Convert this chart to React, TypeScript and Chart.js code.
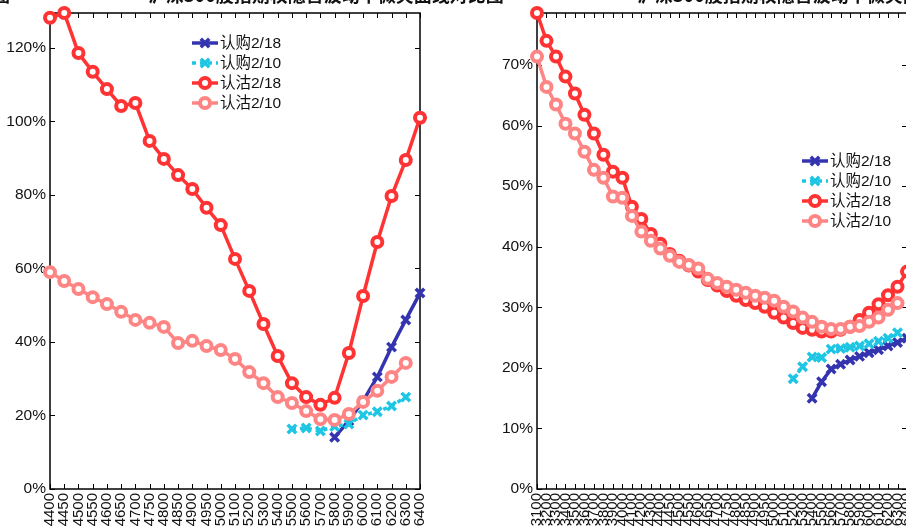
import React, { useEffect, useRef } from 'react';
import { Chart, registerables } from 'chart.js';

Chart.register(...registerables);

// ---------- data ----------
const leftStrikes = ['4400','4450','4500','4550','4600','4650','4700','4750','4800','4850','4900','4950','5000','5100','5200','5300','5400','5500','5600','5700','5800','5900','6000','6100','6200','6300','6400'];
const leftCall0218: (number | null)[] = [null,null,null,null,null,null,null,null,null,null,null,null,null,null,null,null,null,null,null,null,14.1,18.5,24.0,30.5,38.6,46.0,53.3];
const leftCall0210: (number | null)[] = [null,null,null,null,null,null,null,null,null,null,null,null,null,null,null,null,null,16.3,16.6,15.8,17.0,17.7,20.1,21.0,22.6,25.0,null];
const leftPut0218: (number | null)[] = [128.2,129.5,118.6,113.5,108.8,104.2,105.0,94.7,89.8,85.4,81.6,76.5,71.8,62.6,53.9,44.9,36.2,28.8,25.0,22.9,24.8,37.0,52.5,67.2,79.7,89.5,101.0];
const leftPut0210: (number | null)[] = [59.0,56.6,54.4,52.2,50.3,48.2,46.0,45.2,44.1,39.7,40.3,38.9,37.8,35.4,31.8,28.8,25.0,23.4,21.2,19.0,18.8,20.4,23.7,26.7,30.5,34.3,null];

const rightStrikes = ['3100','3200','3300','3400','3500','3600','3700','3800','3900','4000','4100','4200','4300','4400','4450','4500','4550','4600','4650','4700','4750','4800','4850','4900','4950','5000','5100','5200','5300','5400','5500','5600','5700','5800','5900','6000','6100','6200','6300','6400'];
const rightCall0218: (number | null)[] = [null,null,null,null,null,null,null,null,null,null,null,null,null,null,null,null,null,null,null,null,null,null,null,null,null,null,null,null,null,15.0,17.7,19.8,20.6,21.3,21.9,22.5,23.0,23.6,24.2,24.9];
const rightCall0210: (number | null)[] = [null,null,null,null,null,null,null,null,null,null,null,null,null,null,null,null,null,null,null,null,null,null,null,null,null,null,null,18.2,20.2,21.8,21.7,23.1,23.2,23.4,23.6,24.0,24.4,24.9,25.8,null];
const rightPut0218: (number | null)[] = [78.6,74.0,71.4,68.1,65.3,61.8,58.7,55.2,52.4,51.4,46.6,44.6,42.1,40.5,38.8,37.7,36.9,35.9,34.5,33.6,32.7,31.9,31.2,30.7,30.1,29.1,28.3,27.4,26.6,26.3,26.0,26.0,26.3,26.8,27.9,29.1,30.5,32.0,33.4,35.9];
const rightPut0210: (number | null)[] = [71.4,66.4,63.5,60.3,58.7,55.7,52.7,51.4,48.3,48.1,45.1,42.5,41.0,39.7,38.5,37.5,37.0,36.4,34.7,34.0,33.4,32.9,32.4,31.9,31.6,31.1,30.1,29.3,28.3,27.6,26.8,26.4,26.4,26.8,26.9,27.6,28.3,29.6,30.7,null];

const seriesNames = ['认购2/18', '认购2/10', '认沽2/18', '认沽2/10'];
const seriesColors = ['#3434B0', '#1FC6E3', '#FF3333', '#FF8585'];

const leftTitle = '沪深300股指期权隐含波动率微笑曲线对比图';
const rightTitle = '沪深300股指期权隐含波动率微笑曲线对比图';

// ---------- helpers ----------
const FONT = "'Liberation Sans', Arial, 'Noto Sans CJK SC', sans-serif";
Chart.defaults.font.family = FONT;
Chart.defaults.color = '#111';

function drawMarker(ctx: CanvasRenderingContext2D, style: string, x: number, y: number, color: string) {
  ctx.save();
  ctx.strokeStyle = color;
  if (style === 'circle') {
    ctx.lineWidth = 4;
    ctx.fillStyle = '#fff';
    ctx.beginPath();
    ctx.arc(x, y, 5, 0, Math.PI * 2);
    ctx.fill();
    ctx.stroke();
  } else {
    ctx.lineWidth = 3.5;
    const d = 6 * Math.SQRT1_2;
    ctx.beginPath();
    ctx.moveTo(x - d, y - d); ctx.lineTo(x + d, y + d);
    ctx.moveTo(x + d, y - d); ctx.lineTo(x - d, y + d);
    ctx.stroke();
  }
  ctx.restore();
}

const framePlugin = {
  id: 'frame',
  beforeDatasetsDraw(chart: any) {
    const { ctx, chartArea: a, scales } = chart;
    ctx.save();
    ctx.strokeStyle = '#000';
    ctx.lineWidth = 1.5;
    ctx.strokeRect(a.left, a.top, a.right - a.left, a.bottom - a.top);
    const tl = 5;
    ctx.lineWidth = 1;
    ctx.beginPath();
    scales.x.ticks.forEach((_: any, i: number) => {
      const x = Math.round(scales.x.getPixelForTick(i)) + 0.5;
      ctx.moveTo(x, a.bottom); ctx.lineTo(x, a.bottom - tl);
      ctx.moveTo(x, a.top); ctx.lineTo(x, a.top + tl);
    });
    scales.y.ticks.forEach((_: any, i: number) => {
      const y = Math.round(scales.y.getPixelForTick(i)) + 0.5;
      ctx.moveTo(a.left, y); ctx.lineTo(a.left + tl, y);
      ctx.moveTo(a.right, y); ctx.lineTo(a.right - tl, y);
    });
    ctx.stroke();
    ctx.restore();
  },
};

const legendPlugin = {
  id: 'ownLegend',
  afterDraw(chart: any, _args: any, opts: any) {
    const { ctx } = chart;
    const datasets = chart.data.datasets;
    ctx.save();
    ctx.font = `15.5px ${FONT}`;
    ctx.textBaseline = 'middle';
    ctx.textAlign = 'left';
    datasets.forEach((ds: any, i: number) => {
      const y = opts.y + i * opts.gap;
      const x0 = opts.x;
      const x1 = opts.x + 26;
      ctx.save();
      ctx.strokeStyle = ds.borderColor;
      ctx.lineWidth = 3.5;
      ctx.setLineDash(ds.borderDash || []);
      ctx.beginPath();
      ctx.moveTo(x0, y); ctx.lineTo(x1, y);
      ctx.stroke();
      ctx.restore();
      drawMarker(ctx, ds.pointStyle, (x0 + x1) / 2, y, ds.borderColor);
      ctx.fillStyle = '#111';
      ctx.fillText(ds.label, x1 + 2, y + 1);
    });
    ctx.restore();
  },
};

function makeDatasets(c18: (number | null)[], c10: (number | null)[], p18: (number | null)[], p10: (number | null)[]) {
  const data = [c18, c10, p18, p10];
  return data.map((d, i) => {
    const isCall = i < 2;
    return {
      label: seriesNames[i],
      data: d,
      borderColor: seriesColors[i],
      backgroundColor: seriesColors[i],
      borderWidth: 3.5,
      borderDash: i === 1 ? [4, 4] : [],
      pointStyle: isCall ? 'crossRot' : 'circle',
      pointRadius: isCall ? 6 : 5,
      pointBorderWidth: isCall ? 3.5 : 4,
      pointBackgroundColor: isCall ? seriesColors[i] : '#fff',
      pointBorderColor: seriesColors[i],
      tension: 0,
      clip: false as any,
      order: 4 - i,
      spanGaps: false,
    };
  });
}

function makeConfig(labels: string[], datasets: any[], yMax: number, step: number, yWidth: number, padRight: number, height: number, legendPos: { x: number; y: number }) {
  return {
    type: 'line' as const,
    data: { labels, datasets },
    plugins: [framePlugin, legendPlugin],
    options: {
      responsive: false,
      animation: false as const,
      devicePixelRatio: 1,
      layout: { padding: { top: 13, right: padRight, left: 0, bottom: 0 } },
      plugins: {
        legend: { display: false },
        tooltip: { enabled: false },
        ownLegend: { x: legendPos.x, y: legendPos.y, gap: 20 },
      },
      scales: {
        x: {
          type: 'category' as const,
          offset: false,
          grid: { display: false, drawTicks: false },
          border: { display: false },
          ticks: { autoSkip: false, maxRotation: 90, minRotation: 90, padding: 4, color: '#111', font: { size: 15 } },
          afterFit: (s: any) => { s.height = height - 489; s.paddingLeft = 0; s.paddingRight = 0; },
        },
        y: {
          min: 0,
          max: yMax,
          grid: { display: false, drawTicks: false },
          border: { display: false },
          ticks: { stepSize: step, includeBounds: false, padding: 4, color: '#111', font: { size: 15.5 }, callback: (v: any) => `${v}%` },
          afterFit: (s: any) => { s.width = yWidth; s.paddingTop = 0; s.paddingBottom = 0; },
        },
      },
    },
  };
}

const H = 545;

export default function App() {
  const leftRef = useRef<HTMLCanvasElement>(null);
  const rightRef = useRef<HTMLCanvasElement>(null);

  useEffect(() => {
    const leftMax = Math.max(...(leftPut0218 as number[]));
    const rightMax = Math.max(...(rightPut0218 as number[]));
    const c1 = new Chart(leftRef.current as HTMLCanvasElement, makeConfig(
      leftStrikes, makeDatasets(leftCall0218, leftCall0210, leftPut0218, leftPut0210),
      leftMax, 20, 50, 20, H, { x: 192, y: 43 }) as any);
    const c2 = new Chart(rightRef.current as HTMLCanvasElement, makeConfig(
      rightStrikes, makeDatasets(rightCall0218, rightCall0210, rightPut0218, rightPut0210),
      rightMax, 10, 77, 13, H, { x: 802 - 460, y: 161 }) as any);
    return () => { c1.destroy(); c2.destroy(); };
  }, []);

  const titleStyle: React.CSSProperties = {
    position: 'absolute', top: -15, fontFamily: "'Noto Sans CJK SC', sans-serif", fontWeight: 700,
    fontSize: 18, lineHeight: '18px', color: '#111', whiteSpace: 'nowrap',
  };

  return (
    <div style={{ position: 'fixed', left: 0, top: 0, width: 906, height: 527, overflow: 'hidden', background: '#fff' }}>
      <canvas ref={leftRef} width={440} height={H} style={{ position: 'absolute', left: 0, top: 0, width: 440, height: H }} />
      <canvas ref={rightRef} width={460} height={H} style={{ position: 'absolute', left: 460, top: 0, width: 460, height: H }} />
      <div style={{ ...titleStyle, left: -8 }}>图</div>
      <div style={{ ...titleStyle, left: 148 }}>{leftTitle}</div>
      <div style={{ ...titleStyle, left: 637 }}>{rightTitle}</div>
    </div>
  );
}
